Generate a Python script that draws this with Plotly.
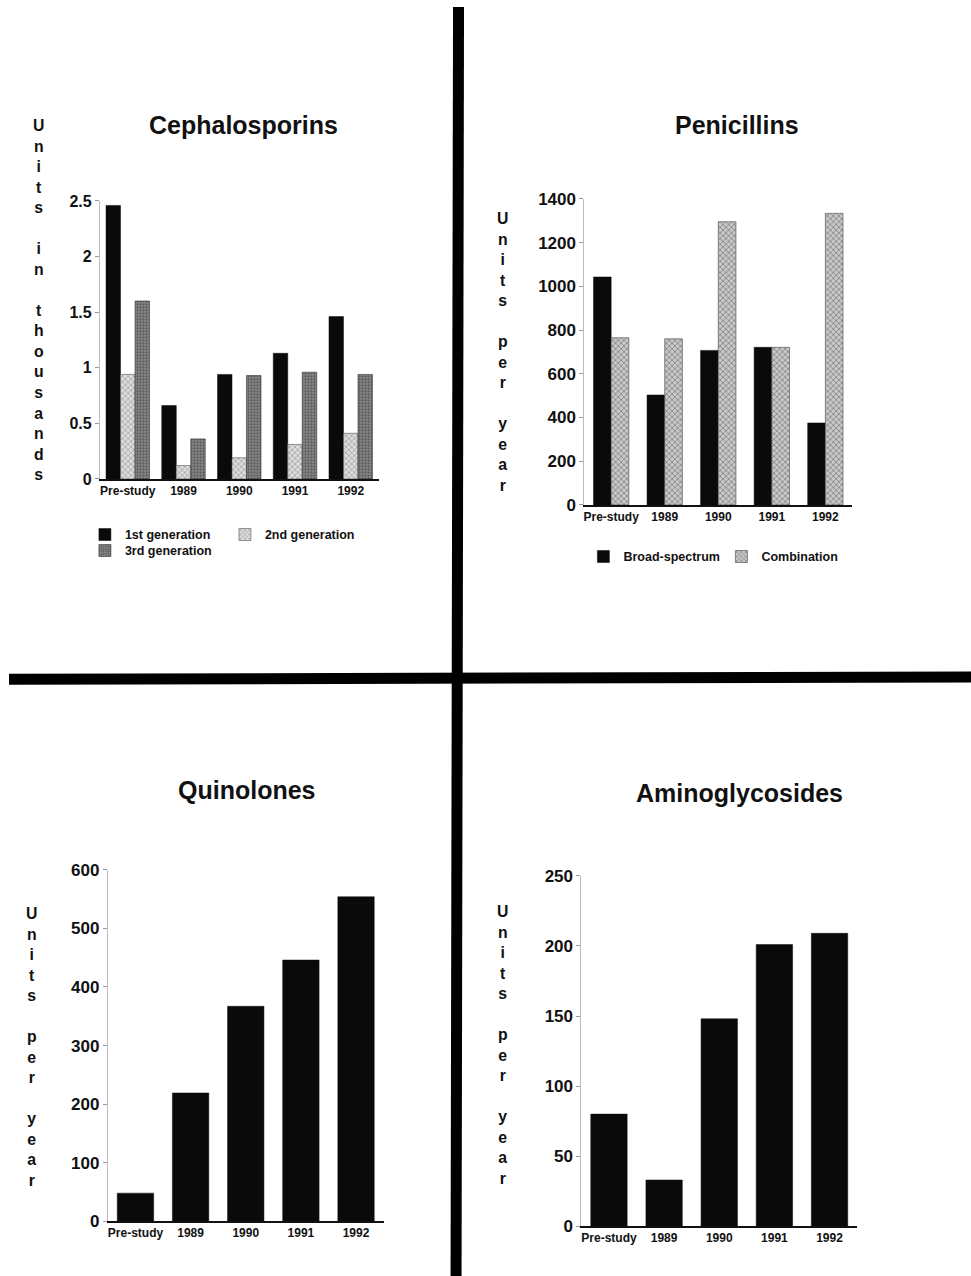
import plotly.graph_objects as go

W, H = 971, 1276

categories = ["Pre-study", "1989", "1990", "1991", "1992"]

# Cephalosporins (units in thousands)
ceph_1st = [2.46, 0.66, 0.94, 1.13, 1.46]
ceph_2nd = [0.94, 0.12, 0.19, 0.31, 0.41]
ceph_3rd = [1.60, 0.36, 0.93, 0.96, 0.94]

# Penicillins (units per year)
pen_broad = [1043, 503, 707, 721, 375]
pen_combo = [765, 760, 1296, 721, 1334]

# Quinolones (units per year)
quin = [48, 219, 367, 446, 554]

# Aminoglycosides (units per year)
amino = [80, 33, 148, 201, 209]

FONT = "Liberation Sans, Arial, sans-serif"


def px(x):
    return x / W


def py(y):
    # compensate for the vertical scaling observed in the rendered page
    yy = (y - 9) / 0.9853
    return 1 - yy / H


fig = go.Figure()

black = dict(color="#0a0a0a", line=dict(color="#0a0a0a", width=0.5))
light_pat = dict(color="#dcdcdc", line=dict(color="#555", width=0.6),
                 pattern=dict(shape="x", fgcolor="#6a6a6a", size=4, solidity=0.35))
dark_pat = dict(color="#8a8a8a", line=dict(color="#333", width=0.6),
                pattern=dict(shape=".", fgcolor="#2a2a2a", size=3, solidity=0.45))
combo_pat = dict(color="#c8c8c8", line=dict(color="#444", width=0.6),
                 pattern=dict(shape="x", fgcolor="#4a4a4a", size=4, solidity=0.4))

# Panel 1
fig.add_trace(go.Bar(x=categories, y=ceph_1st, name="1st generation", marker=black,
                     xaxis="x", yaxis="y", legend="legend"))
fig.add_trace(go.Bar(x=categories, y=ceph_2nd, name="2nd generation", marker=light_pat,
                     xaxis="x", yaxis="y", legend="legend"))
fig.add_trace(go.Bar(x=categories, y=ceph_3rd, name="3rd generation", marker=dark_pat,
                     xaxis="x", yaxis="y", legend="legend2"))
# Panel 2
fig.add_trace(go.Bar(x=categories, y=pen_broad, name="Broad-spectrum", marker=black,
                     xaxis="x2", yaxis="y2", legend="legend3", width=0.33, offset=-0.33))
fig.add_trace(go.Bar(x=categories, y=pen_combo, name="Combination", marker=combo_pat,
                     xaxis="x2", yaxis="y2", legend="legend3", width=0.33, offset=0))
# Panel 3
fig.add_trace(go.Bar(x=categories, y=quin, name="Quinolones", marker=black,
                     xaxis="x3", yaxis="y3", showlegend=False, width=0.66, offset=-0.33))
# Panel 4
fig.add_trace(go.Bar(x=categories, y=amino, name="Aminoglycosides", marker=black,
                     xaxis="x4", yaxis="y4", showlegend=False, width=0.66, offset=-0.33))

xcommon = dict(showline=True, linecolor="#111", linewidth=1.5, ticks="",
               showgrid=False, zeroline=False, type="category", range=[-0.5, 4.5],
               tickfont=dict(family=FONT, size=12, color="#111"), fixedrange=True)
ycommon = dict(showline=True, linecolor="#bdbdbd", linewidth=1, ticks="outside",
               ticklen=4, tickcolor="#999", showgrid=False, zeroline=False,
               tickfont=dict(family=FONT, size=16, color="#111"), fixedrange=True)

layout = dict(
    width=W, height=H, margin=dict(l=0, r=0, t=0, b=0),
    paper_bgcolor="white", plot_bgcolor="white",
    barmode="group", bargap=0.22, bargroupgap=0,
    font=dict(family=FONT, color="#111"),
    xaxis=dict(xcommon, domain=[px(99), px(378)], anchor="y"),
    yaxis=dict(ycommon, domain=[py(479), py(201)], anchor="x", range=[0, 2.5],
               tickvals=[0, 0.5, 1, 1.5, 2, 2.5], ticktext=["0", "0.5", "1", "1.5", "2", "2.5"]),
    xaxis2=dict(xcommon, domain=[px(584), px(852)], anchor="y2"),
    yaxis2=dict(ycommon, domain=[py(505), py(199)], anchor="x2", range=[0, 1400], dtick=200,
                tickfont=dict(family=FONT, size=17, color="#111")),
    xaxis3=dict(xcommon, domain=[px(107), px(383)], anchor="y3"),
    yaxis3=dict(ycommon, domain=[py(1221.5), py(870)], anchor="x3", range=[0, 600], dtick=100,
                tickfont=dict(family=FONT, size=17, color="#111")),
    xaxis4=dict(xcommon, domain=[px(581), px(857)], anchor="y4"),
    yaxis4=dict(ycommon, domain=[py(1226.5), py(876)], anchor="x4", range=[0, 250], dtick=50,
                tickfont=dict(family=FONT, size=17, color="#111")),
    legend=dict(orientation="h", x=px(84), y=py(535), xanchor="left", yanchor="middle",
                entrywidth=95, entrywidthmode="pixels", bgcolor="rgba(0,0,0,0)",
                font=dict(family=FONT, size=12.5, color="#111"), traceorder="normal"),
    legend2=dict(orientation="h", x=px(84), y=py(551), xanchor="left", yanchor="middle",
                 bgcolor="rgba(0,0,0,0)", font=dict(family=FONT, size=12.5, color="#111")),
    legend3=dict(orientation="h", x=px(583), y=py(557), xanchor="left", yanchor="middle",
                 entrywidth=93, entrywidthmode="pixels", bgcolor="rgba(0,0,0,0)",
                 font=dict(family=FONT, size=12.5, color="#111"), traceorder="normal"),
)
fig.update_layout(**layout)

# Titles
titles = [("Cephalosporins", 243, 125), ("Penicillins", 737, 125),
          ("Quinolones", 246, 790), ("Aminoglycosides", 739, 793)]
for t, x, y in titles:
    fig.add_annotation(text=t, x=px(x), y=py(y), xref="paper", yref="paper",
                       showarrow=False, xanchor="center", yanchor="middle",
                       font=dict(family=FONT, size=25, color="#111"))


def stacked(label):
    return "<br>".join(ch if ch != " " else " " for ch in label)


ylabels = [("Units in thousands", 38, 300.5), ("Units per year", 502, 352.5),
           ("Units per year", 31, 1047), ("Units per year", 502, 1045)]
for t, x, y in ylabels:
    fig.add_annotation(text=stacked(t), x=px(x), y=py(y), xref="paper",
                       yref="paper", showarrow=False, xanchor="center", yanchor="middle",
                       font=dict(family=FONT, size=15.8, color="#111"))

# Panel dividers
fig.add_shape(type="line", xref="paper", yref="paper", x0=px(458), y0=py(7), x1=px(455.5), y1=py(1290),
              line=dict(color="#000", width=11))
fig.add_shape(type="line", xref="paper", yref="paper", x0=px(8), y0=py(679.5), x1=px(975), y1=py(677),
              line=dict(color="#000", width=11))

for ax in ["xaxis", "xaxis2", "xaxis3", "xaxis4"]:
    fig.layout[ax].tickfont.weight = "bold"
for ax in ["yaxis", "yaxis2", "yaxis3", "yaxis4"]:
    fig.layout[ax].tickfont.weight = "bold"
for lg in ["legend", "legend2", "legend3"]:
    fig.layout[lg].font.weight = "bold"
for a in fig.layout.annotations:
    a.font.weight = "bold"

fig.write_html(
    "out.html",
    config={"displayModeBar": False},
    post_script="document.body.style.margin='0';document.body.style.overflow='hidden';",
)
